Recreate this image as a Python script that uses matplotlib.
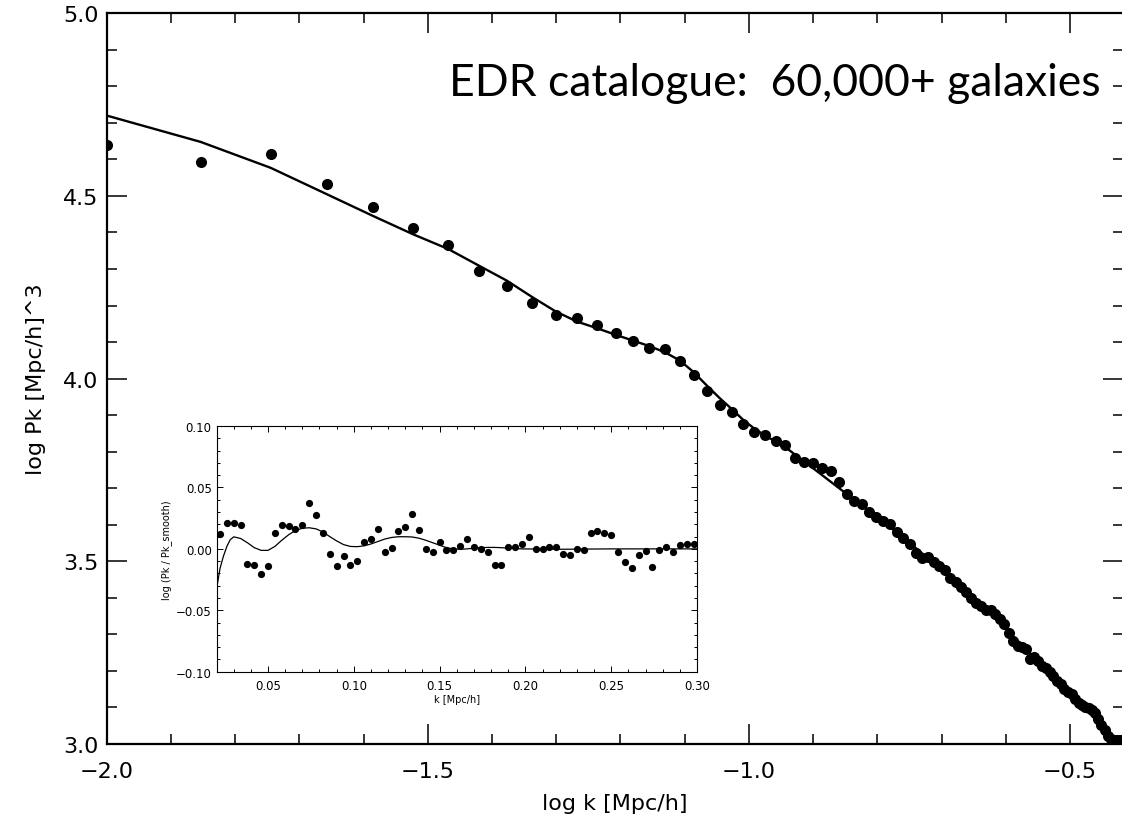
import matplotlib
matplotlib.use("Agg")
import numpy as np
import matplotlib.pyplot as plt
from matplotlib.ticker import MultipleLocator, FuncFormatter

plt.rcParams['font.family'] = ['DejaVu Sans']

# k bins [h/Mpc] of the measured power spectrum
k_main = [0.010, 0.014, 0.018, 0.022, 0.026, 0.030, 0.034, 0.038, 0.042, 0.046,
          0.050, 0.054, 0.058, 0.062, 0.066, 0.070, 0.074, 0.078, 0.082, 0.086,
          0.090, 0.094, 0.098, 0.102, 0.106, 0.110, 0.114, 0.118, 0.122, 0.126,
          0.130, 0.134, 0.138, 0.142, 0.146, 0.150, 0.154, 0.158, 0.162, 0.166,
          0.170, 0.174, 0.178, 0.182, 0.186, 0.190, 0.194, 0.198, 0.202, 0.206,
          0.210, 0.214, 0.218, 0.222, 0.226, 0.230, 0.234, 0.238, 0.242, 0.246,
          0.250, 0.254, 0.258, 0.262, 0.266, 0.270, 0.274, 0.278, 0.282, 0.286,
          0.290, 0.294, 0.298, 0.302, 0.306, 0.310, 0.314, 0.318, 0.322, 0.326,
          0.330, 0.334, 0.338, 0.342, 0.346, 0.350, 0.354, 0.358, 0.362, 0.366,
          0.370, 0.374, 0.378]

logpk_data = [4.640, 4.594, 4.615, 4.534, 4.471, 4.411, 4.366, 4.295, 4.253, 4.206,
              4.175, 4.167, 4.148, 4.124, 4.102, 4.084, 4.081, 4.047, 4.009, 3.966,
              3.929, 3.910, 3.877, 3.854, 3.847, 3.829, 3.818, 3.782, 3.773, 3.768,
              3.754, 3.746, 3.716, 3.684, 3.665, 3.658, 3.636, 3.621, 3.611, 3.601,
              3.581, 3.564, 3.547, 3.523, 3.509, 3.511, 3.497, 3.486, 3.477, 3.455,
              3.442, 3.430, 3.417, 3.400, 3.386, 3.379, 3.366, 3.367, 3.357, 3.343,
              3.329, 3.304, 3.283, 3.267, 3.266, 3.259, 3.233, 3.237, 3.227, 3.213,
              3.207, 3.197, 3.186, 3.173, 3.164, 3.151, 3.142, 3.137, 3.123, 3.112,
              3.107, 3.101, 3.099, 3.093, 3.085, 3.068, 3.052, 3.038, 3.022, 3.014,
              3.011, 3.011, 3.011]

# model curve, same bins up to k = 0.298
logpk_model = [4.720, 4.648, 4.577, 4.505, 4.445, 4.395, 4.355, 4.309, 4.268, 4.223,
               4.184, 4.156, 4.138, 4.120, 4.104, 4.089, 4.072, 4.050, 4.018, 3.981,
               3.947, 3.917, 3.887, 3.863, 3.844, 3.828, 3.812, 3.792, 3.773, 3.754,
               3.736, 3.718, 3.701, 3.684, 3.668, 3.652, 3.637, 3.622, 3.608, 3.593,
               3.579, 3.564, 3.550, 3.536, 3.522, 3.509, 3.495, 3.482, 3.468, 3.455,
               3.442, 3.429, 3.416, 3.404, 3.391, 3.379, 3.366, 3.354, 3.342, 3.330,
               3.318, 3.306, 3.294, 3.283, 3.271, 3.260, 3.248, 3.237, 3.226, 3.215,
               3.204, 3.193, 3.182]

# inset: log(Pk / Pk_smooth), bins 0.022 .. 0.298
resid = [0.0118, 0.0214, 0.0214, 0.0192, -0.0121, -0.0129, -0.0203, -0.0137, 0.0126, 0.0198,
         0.0184, 0.0159, 0.0192, 0.0376, 0.0272, 0.0132, -0.0041, -0.0143, -0.0060, -0.0135,
         -0.0102, 0.0058, 0.0082, 0.0165, -0.0022, 0.0008, 0.0146, 0.0181, 0.0283, 0.0151,
         0.0003, -0.0027, 0.0058, -0.0008, -0.0008, 0.0025, 0.0077, 0.0019, 0.0003, -0.0027,
         -0.0129, -0.0129, 0.0019, 0.0019, 0.0038, 0.0093, 0.0003, 0.0003, 0.0014, 0.0014,
         -0.0041, -0.0052, 0.0003, -0.0005, 0.0126, 0.0146, 0.0132, 0.0110, -0.0025, -0.0110,
         -0.0157, -0.0052, -0.0014, -0.0146, -0.0005, 0.0014, -0.0025, 0.0033, 0.0038, 0.0038]

k_ratio = [0.020, 0.022, 0.024, 0.026, 0.028, 0.030, 0.034, 0.038, 0.042, 0.046,
           0.050, 0.054, 0.058, 0.062, 0.066, 0.070, 0.074, 0.078, 0.082, 0.086,
           0.090, 0.094, 0.098, 0.102, 0.106, 0.110, 0.114, 0.118, 0.122, 0.126,
           0.130, 0.134, 0.138, 0.142, 0.146, 0.150, 0.154, 0.158, 0.162, 0.166,
           0.170, 0.174, 0.178, 0.182, 0.186, 0.190, 0.194, 0.198, 0.220, 0.250, 0.300]
ratio_model = [-0.0330, -0.0160, -0.0060, 0.0020, 0.0075, 0.0098, 0.0085, 0.0050, 0.0010, -0.0012,
               -0.0012, 0.0020, 0.0070, 0.0115, 0.0150, 0.0168, 0.0172, 0.0163, 0.0138, 0.0100,
               0.0065, 0.0035, 0.0020, 0.0018, 0.0025, 0.0040, 0.0060, 0.0080, 0.0093, 0.0099,
               0.0099, 0.0097, 0.0087, 0.0070, 0.0050, 0.0030, 0.0010, 0.0000, -0.0003, 0.0000,
               0.0006, 0.0010, 0.0012, 0.0012, 0.0010, 0.0006, 0.0003, 0.0000, -0.0003, 0.0000, 0.0000]

n_model = len(logpk_model)
k_inset = k_main[3:3 + len(resid)]


def fmt(nd):
    return FuncFormatter(lambda v, p: ('%.*f' % (nd, v)).replace('-', '\u2212'))


fig = plt.figure(figsize=(11.22, 8.2), dpi=100)

# main panel
ax = fig.add_axes([0.0951, 0.0915, 0.9058, 0.8911])
ax.plot(np.log10(k_main[:n_model]), logpk_model, color='black', lw=1.7, zorder=2)
ax.plot(np.log10(k_main), logpk_data, 'o', color='black', ms=8, mew=0, zorder=3)
ax.set_xlim(-2.0, -0.4175)
ax.set_ylim(3.0, 5.0)
ax.xaxis.set_major_locator(MultipleLocator(0.5))
ax.xaxis.set_minor_locator(MultipleLocator(0.1))
ax.yaxis.set_major_locator(MultipleLocator(0.5))
ax.yaxis.set_minor_locator(MultipleLocator(0.1))
ax.xaxis.set_major_formatter(fmt(1))
ax.yaxis.set_major_formatter(fmt(1))
ax.tick_params(which='both', direction='in', top=True, right=True, width=1.1, labelsize=16)
ax.tick_params(which='major', length=14.4)
ax.tick_params(which='minor', length=7.2)
ax.tick_params(axis='x', pad=12)
ax.tick_params(axis='y', pad=6)
for s in ax.spines.values():
    s.set_linewidth(1.6)
ax.set_xlabel('log k [Mpc/h]', fontsize=16, labelpad=9)
ax.set_ylabel('log Pk [Mpc/h]^3', fontsize=16, labelpad=12)
ax.text(0.978, 0.905, 'EDR catalogue:  60,000+ galaxies', transform=ax.transAxes,
        ha='right', va='center', fontsize=32, family=['Lato', 'DejaVu Sans'])

# inset panel
ins = fig.add_axes([0.193, 0.1796, 0.4282, 0.2996])
ins.plot(k_ratio, ratio_model, color='black', lw=0.9, zorder=2)
ins.plot(k_inset, resid, 'o', color='black', ms=5.2, mew=0, zorder=3)
ins.set_xlim(0.02, 0.30)
ins.set_ylim(-0.10, 0.10)
ins.xaxis.set_major_locator(MultipleLocator(0.05))
ins.xaxis.set_minor_locator(MultipleLocator(0.01))
ins.yaxis.set_major_locator(MultipleLocator(0.05))
ins.yaxis.set_minor_locator(MultipleLocator(0.01))
ins.xaxis.set_major_formatter(fmt(2))
ins.yaxis.set_major_formatter(fmt(2))
ins.tick_params(which='both', direction='in', top=True, right=True, width=0.7, labelsize=8.5)
ins.tick_params(which='major', length=4.5)
ins.tick_params(which='minor', length=2.3)
ins.tick_params(axis='x', pad=5)
for s in ins.spines.values():
    s.set_linewidth(0.8)
ins.set_xlabel('k [Mpc/h]', fontsize=7, labelpad=2)
ins.set_ylabel('log (Pk / Pk_smooth)', fontsize=7, labelpad=3)

fig.savefig('out.png', dpi=100)
